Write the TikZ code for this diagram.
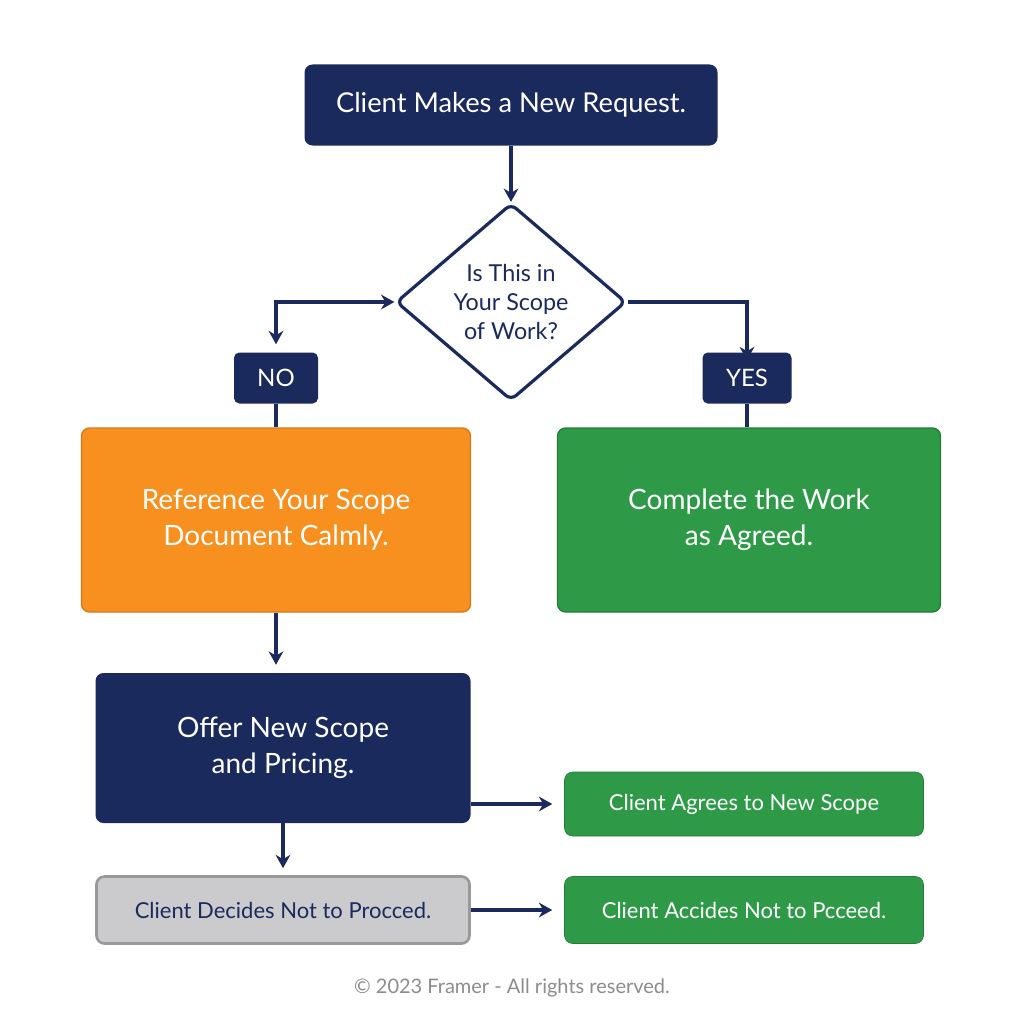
\documentclass[tikz,border=0pt]{standalone}
\usepackage{fontspec}
\setmainfont{Lato}
\usetikzlibrary{shapes.geometric,arrows.meta}
\definecolor{navy}{HTML}{1B2A5C}
\definecolor{orng}{HTML}{F7901E}
\definecolor{grn}{HTML}{2E9A48}
\definecolor{gry}{HTML}{CBCBCD}
\begin{document}
\begin{tikzpicture}[x=0.75pt,y=-0.75pt,
  box/.style={rectangle,rounded corners=6pt,align=center,text=white,inner sep=0pt},
  arr/.style={draw=navy,line width=3pt,-{Stealth[length=10pt,width=11pt]}},
  ln/.style={draw=navy,line width=3pt}]
\useasboundingbox (0,0) rectangle (1024,1024);
\node[box,fill=navy,minimum width=413*0.75pt,minimum height=81*0.75pt,font=\fontsize{20.5}{24}\selectfont] (top) at (511,105) {Client Makes a New Request.};
\node[diamond,draw=navy,line width=2.4pt,rounded corners=5pt,fill=white,minimum width=230*0.75pt,minimum height=197*0.75pt,inner sep=0pt,align=center,text=navy,font=\fontsize{17.5}{21.5}\selectfont] (dia) at (511,302) {Is This in\\Your Scope\\of Work?};
\node[box,rounded corners=4pt,fill=navy,minimum width=84*0.75pt,minimum height=51*0.75pt,font=\fontsize{18}{20}\selectfont] (no) at (276,378) {NO};
\node[box,rounded corners=4pt,fill=navy,minimum width=89*0.75pt,minimum height=51*0.75pt,font=\fontsize{18}{20}\selectfont] (yes) at (747,378) {YES};
\node[box,fill=orng,draw=orng!85!black,line width=1pt,minimum width=389*0.75pt,minimum height=184*0.75pt,font=\fontsize{21}{27}\selectfont] (ref) at (276,520) {Reference Your Scope\\Document Calmly.};
\node[box,fill=grn,draw=grn!80!black,line width=1pt,minimum width=383*0.75pt,minimum height=184*0.75pt,font=\fontsize{21}{27}\selectfont] (comp) at (749,520) {Complete the Work\\as Agreed.};
\node[box,fill=navy,minimum width=375*0.75pt,minimum height=150*0.75pt,font=\fontsize{21}{27}\selectfont] (off) at (283,748) {Offer New Scope\\and Pricing.};
\node[box,fill=grn,draw=grn!80!black,minimum width=359*0.75pt,minimum height=64*0.75pt,font=\fontsize{16.5}{18}\selectfont] (agr) at (744,804) {Client Agrees to New Scope};
\node[box,fill=gry,draw=gray!80,line width=2pt,text=navy,minimum width=373*0.75pt,minimum height=67*0.75pt,font=\fontsize{16.5}{18}\selectfont] (dec) at (283,910) {Client Decides Not to Procced.};
\node[box,fill=grn,draw=grn!80!black,minimum width=359*0.75pt,minimum height=67*0.75pt,font=\fontsize{16.5}{18}\selectfont] (acc) at (744,910) {Client Accides Not to Pcceed.};
\node[text=gray!90,font=\fontsize{15}{16}\selectfont] (foot) at (512,988) {© 2023 Framer - All rights reserved.};
\draw[arr] (top.south) -- (dia.north);
\draw[arr,{Stealth[length=10pt,width=11pt]}-{Stealth[length=10pt,width=11pt]}] (no.north) ++(0,-8) |- (dia.west);
\draw[arr] (dia.east) -| ([yshift=-8*0.75pt]yes.north);
\draw[ln] (no.south) -- (no.south |- ref.north);
\draw[ln] (yes.south) -- (yes.south |- ref.north);
\draw[arr] (ref.south) -- ([yshift=8*0.75pt]ref.south |- off.north);
\draw[arr] (off.east |- agr.west) -- ([xshift=-12*0.75pt]agr.west);
\draw[arr] (off.south) -- ([yshift=7*0.75pt]off.south |- dec.north);
\draw[arr] (dec.east) -- ([xshift=-12*0.75pt]acc.west);
\end{tikzpicture}
\end{document}
